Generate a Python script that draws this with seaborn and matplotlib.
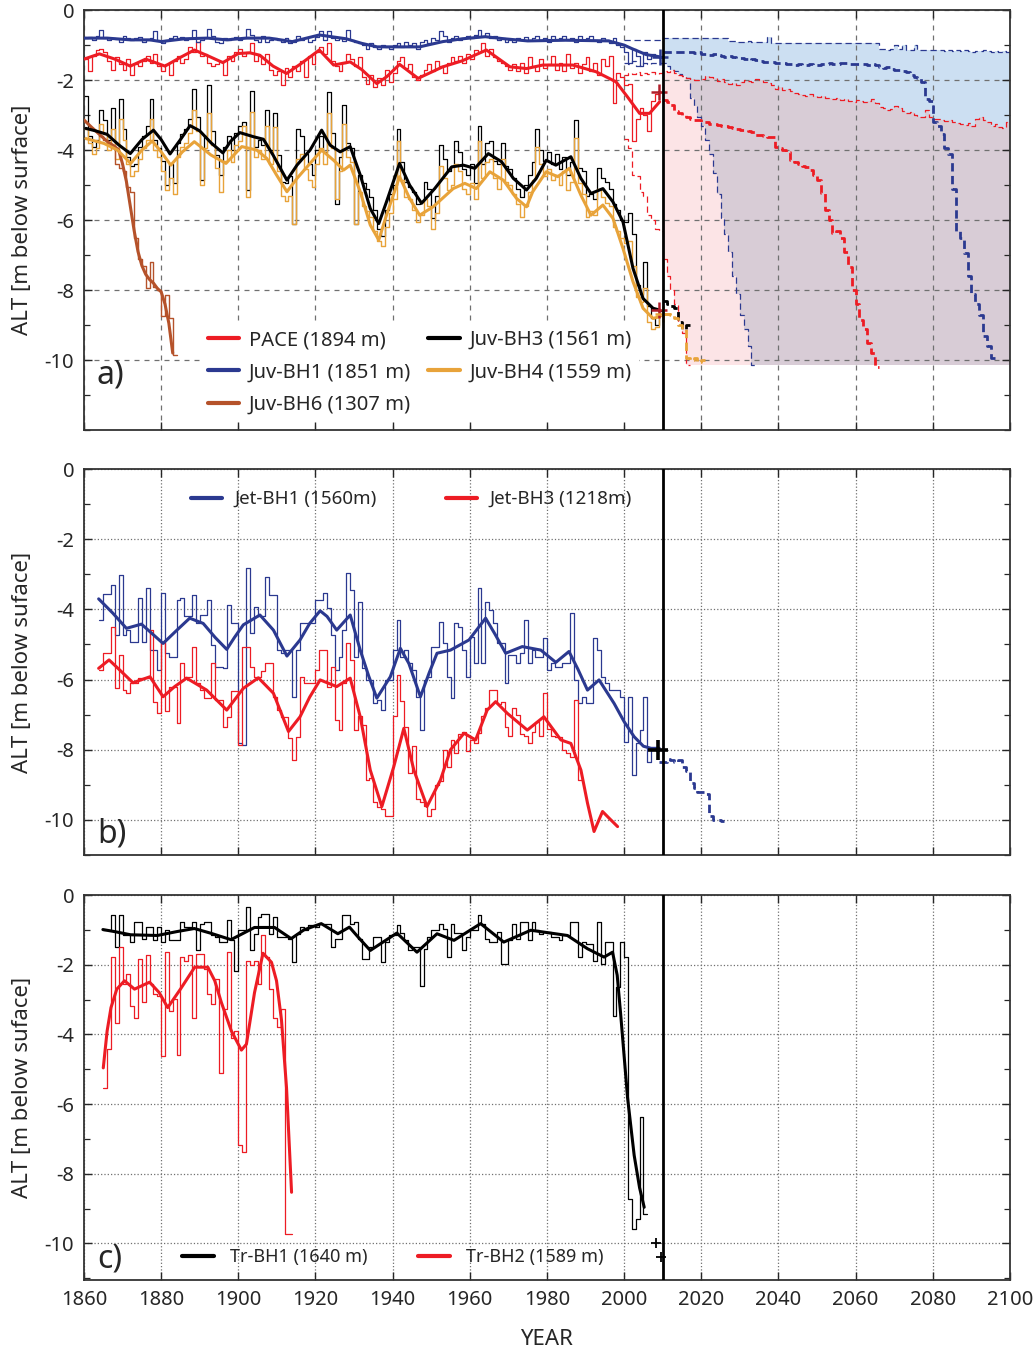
import numpy as np
import matplotlib
matplotlib.use("Agg")
import matplotlib.pyplot as plt
import seaborn as sns
from matplotlib.lines import Line2D
from matplotlib.ticker import MultipleLocator, FixedLocator

# ---------------- DATA ----------------
# Panel a: annual ALT (m, negative = below surface), 1860-2009
JUV_START = 1860
JUV_BH1 = [-0.80,-0.78,-0.85,-0.75,-0.57,-0.80,-0.85,-0.80,-0.82,-0.90,
           -0.75,-0.80,-0.85,-0.80,-0.78,-0.90,-0.85,-0.80,-0.60,-0.85,
           -0.95,-0.85,-0.80,-0.75,-0.80,-0.78,-0.85,-0.80,-0.57,-0.90,
           -0.85,-0.80,-0.55,-0.75,-0.90,-0.95,-0.80,-0.85,-0.80,-0.78,
           -0.85,-0.80,-0.55,-0.70,-0.85,-0.90,-0.75,-0.90,-0.85,-0.80,
           -0.85,-0.90,-0.80,-0.95,-0.90,-0.75,-0.85,-0.80,-0.90,-0.85,
           -0.78,-0.60,-0.85,-0.60,-0.80,-0.85,-0.80,-0.88,-0.58,-0.85,
           -0.90,-0.95,-1.00,-1.10,-0.95,-1.05,-1.10,-1.00,-1.05,-1.10,
           -1.00,-0.95,-1.05,-0.90,-1.00,-0.95,-1.10,-0.90,-0.85,-0.95,
           -0.80,-0.85,-0.60,-0.75,-0.90,-0.80,-0.75,-0.85,-0.80,-0.75,
           -0.80,-0.70,-0.57,-0.75,-0.65,-0.80,-0.75,-0.85,-0.80,-0.90,
           -0.85,-0.90,-0.80,-0.85,-0.78,-0.85,-0.80,-0.75,-0.85,-0.80,
           -0.90,-0.75,-0.85,-0.80,-0.75,-0.85,-0.80,-0.90,-0.75,-0.85,
           -0.80,-0.75,-0.85,-0.90,-0.80,-0.85,-0.95,-0.80,-1.00,-1.05,
           -1.20,-1.50,-1.10,-1.30,-1.60,-1.20,-1.40,-1.25,-1.35,-1.30]
PACE = [-1.40,-1.75,-1.30,-1.15,-1.10,-1.20,-1.45,-1.70,-1.35,-1.55,
        -1.70,-1.40,-1.85,-1.55,-1.60,-1.45,-1.30,-1.50,-1.25,-1.60,
        -1.75,-1.55,-1.85,-1.45,-1.30,-1.50,-1.40,-1.05,-1.20,-0.90,
        -1.30,-1.25,-1.50,-1.60,-1.55,-1.45,-1.85,-1.30,-1.45,-1.20,
        -1.10,-1.30,-1.20,-0.95,-1.45,-1.30,-1.55,-1.25,-1.70,-1.85,
        -1.75,-2.15,-1.65,-1.90,-1.60,-1.75,-1.45,-1.90,-1.30,-1.55,
        -1.20,-1.05,-1.25,-0.95,-1.45,-1.60,-1.75,-1.50,-1.25,-1.40,
        -1.60,-1.35,-1.90,-2.10,-1.85,-2.20,-1.95,-2.15,-1.70,-2.05,
        -1.80,-1.45,-1.35,-1.65,-1.55,-1.90,-2.00,-1.85,-1.70,-1.55,
        -1.75,-1.45,-1.60,-1.80,-1.50,-1.35,-1.45,-1.30,-1.50,-1.25,
        -1.40,-1.15,-1.20,-0.95,-1.30,-1.10,-1.35,-1.45,-1.50,-1.60,
        -1.70,-1.55,-1.75,-1.50,-1.80,-1.35,-1.60,-1.75,-1.40,-1.65,
        -1.55,-1.30,-1.70,-1.50,-1.75,-1.25,-1.65,-1.50,-1.80,-1.55,
        -1.35,-1.75,-1.50,-1.85,-1.40,-1.60,-1.30,-2.65,-1.80,-1.90,
        -2.15,-2.10,-3.75,-3.10,-2.80,-3.00,-3.45,-2.60,-2.40,-2.35]
JUV_BH3 = [-2.45,-3.60,-3.90,-3.70,-2.85,-3.15,-3.70,-2.80,-3.95,-2.55,
           -3.40,-4.20,-4.45,-4.40,-3.90,-3.60,-3.30,-2.55,-3.70,-3.95,
           -4.30,-5.00,-4.40,-4.95,-3.80,-3.55,-3.40,-3.10,-2.25,-3.05,
           -4.85,-3.60,-2.15,-3.45,-4.15,-4.70,-3.90,-3.60,-4.00,-3.50,
           -3.30,-3.20,-5.15,-2.30,-3.90,-3.70,-3.85,-2.85,-4.00,-2.95,
           -4.15,-4.90,-4.95,-4.75,-6.10,-3.40,-3.60,-4.10,-4.40,-4.70,
           -4.00,-3.60,-4.05,-2.35,-3.50,-5.55,-4.20,-2.70,-3.80,-3.95,
           -6.10,-4.70,-4.95,-5.10,-5.35,-5.70,-6.25,-6.45,-5.70,-5.25,
           -5.00,-3.40,-4.35,-4.90,-5.05,-5.20,-5.55,-5.45,-4.90,-5.10,
           -5.95,-5.30,-3.85,-4.25,-4.60,-4.45,-3.75,-4.05,-4.55,-4.70,
           -4.40,-4.95,-3.30,-4.40,-3.80,-3.75,-4.30,-4.40,-3.80,-4.45,
           -4.55,-4.80,-5.10,-5.35,-5.00,-4.70,-4.35,-3.40,-4.00,-4.30,
           -4.05,-4.40,-4.10,-4.55,-4.20,-4.70,-4.35,-3.15,-4.50,-4.60,
           -5.30,-5.25,-5.40,-4.50,-4.80,-4.90,-5.10,-5.55,-5.70,-6.00,
           -6.05,-5.80,-6.40,-7.85,-8.10,-7.20,-8.45,-8.80,-9.00,-8.60]
JUV_BH4 = [-3.40,-3.80,-4.10,-3.95,-3.25,-3.55,-4.00,-3.40,-4.25,-3.10,
           -3.70,-4.40,-4.75,-4.60,-4.25,-3.95,-3.70,-3.10,-4.00,-4.20,
           -4.60,-5.15,-4.80,-5.25,-4.20,-3.90,-3.80,-3.50,-2.85,-3.45,
           -5.00,-3.95,-2.95,-3.85,-4.50,-5.20,-4.30,-4.00,-4.35,-3.85,
           -3.75,-3.30,-5.35,-2.90,-4.20,-4.00,-4.25,-3.30,-4.40,-3.35,
           -4.60,-5.30,-5.45,-5.30,-6.10,-4.25,-4.10,-4.55,-4.85,-5.05,
           -4.40,-3.95,-4.40,-2.95,-3.95,-5.40,-4.60,-3.25,-4.20,-4.35,
           -6.10,-5.20,-5.60,-5.75,-5.90,-6.30,-6.60,-6.75,-6.20,-5.80,
           -5.40,-3.75,-4.85,-5.35,-5.40,-5.70,-6.05,-5.85,-5.40,-5.60,
           -6.25,-5.80,-4.45,-4.80,-5.15,-5.00,-4.40,-4.60,-5.10,-5.25,
           -4.95,-5.40,-3.75,-4.80,-4.35,-4.25,-4.80,-5.10,-4.25,-4.90,
           -5.00,-5.25,-5.55,-5.90,-5.60,-5.20,-4.85,-3.90,-4.40,-4.75,
           -4.55,-4.85,-4.70,-5.00,-4.60,-5.15,-4.90,-3.65,-4.95,-5.25,
           -5.90,-5.75,-5.85,-5.10,-5.35,-5.50,-5.60,-6.20,-6.30,-6.50,
           -6.65,-6.60,-7.30,-8.20,-8.35,-7.95,-8.90,-9.10,-9.05,-8.75]
BH6_START = 1864
JUV_BH6 = [-3.60,-3.70,-3.85,-3.95,-4.40,-4.50,
           -4.60,-5.05,-5.20,-6.50,-7.10,-7.30,-7.95,-7.20,-7.90,-8.00,
           -8.75,-8.15,-8.80,-9.85]

# smoothed curves (year, value)
BH1_SM_X = [1860,1866,1872,1877,1880,1886,1892,1897,1902,1908,1914,1921,1928,1932,1936,1941,1947,1953,1958,1964,1969,1975,1985,1996,2000,2002,2005.7,2009]
BH1_SM_Y = [-0.80,-0.80,-0.85,-0.85,-0.90,-0.82,-0.80,-0.85,-0.80,-0.80,-0.90,-0.71,-0.82,-0.95,-1.05,-1.05,-1.05,-0.90,-0.82,-0.76,-0.82,-0.88,-0.86,-0.88,-1.00,-1.10,-1.27,-1.33]
PACE_SM_X = [1860,1864,1868,1872,1876,1881,1885,1888.6,1892,1896,1900,1903,1905.6,1909,1912.5,1916,1921,1924.7,1929,1932,1935.9,1938.5,1941.8,1946.6,1953,1958,1964.3,1970.4,1974.7,1978.9,1986.7,1992.7,1997.9,2001,2004,2006.6,2009.2]
PACE_SM_Y = [-1.40,-1.25,-1.40,-1.60,-1.40,-1.60,-1.35,-1.14,-1.30,-1.50,-1.24,-1.22,-1.29,-1.60,-1.81,-1.55,-1.14,-1.57,-1.48,-1.70,-2.10,-1.90,-1.55,-1.95,-1.62,-1.45,-1.14,-1.62,-1.67,-1.57,-1.57,-1.76,-2.05,-2.50,-2.95,-2.95,-2.62]
BH3_SM_X = [1860.5,1863,1866,1869,1872,1875,1878,1880,1882.3,1885,1887.5,1890,1893,1896,1898,1900.4,1904,1906.5,1909,1912.6,1915.2,1918.6,1921.6,1923.8,1926.4,1929,1931.6,1934.2,1936.4,1938.4,1941.8,1944.4,1947.5,1950.9,1955.3,1958.3,1961.3,1964.8,1968.2,1971.3,1974.7,1977.2,1979.8,1982.3,1986.2,1988.8,1991.4,1994.5,1997.1,1999.7,2002.3,2004.9,2007.5,2009.2]
BH3_SM_Y = [-3.38,-3.45,-3.55,-3.85,-4.10,-3.70,-3.43,-3.70,-4.11,-3.70,-3.30,-3.45,-3.80,-4.08,-3.75,-3.50,-3.62,-3.69,-4.14,-4.86,-4.43,-4.00,-3.43,-3.86,-4.05,-3.90,-4.71,-5.67,-6.10,-5.48,-4.38,-5.00,-5.52,-5.10,-4.48,-4.43,-4.52,-4.10,-4.33,-4.81,-5.14,-4.81,-4.29,-4.43,-4.19,-4.81,-5.24,-5.10,-5.48,-6.05,-7.38,-8.24,-8.52,-8.57]
BH4_SM_X = [1860.5,1865.2,1868.7,1872.1,1875,1877.7,1880,1882.5,1885.5,1888.6,1892.9,1896.8,1900.9,1904.8,1907.4,1909.9,1912.6,1915.2,1918.6,1921.6,1924.7,1927.3,1929,1931.6,1934.2,1936.4,1938.4,1941.8,1944.4,1947,1950.5,1955.7,1958.7,1961.7,1965.2,1968.7,1972.1,1974.7,1976.3,1979.8,1982.8,1985.8,1988.8,1991.4,1994.5,1997.1,1999.7,2002.3,2004.9,2007.5,2009.2]
BH4_SM_Y = [-3.67,-3.81,-4.00,-4.38,-4.00,-3.74,-4.05,-4.43,-4.05,-3.76,-4.14,-4.38,-3.90,-4.00,-4.24,-4.71,-5.19,-4.81,-4.38,-4.00,-4.29,-4.57,-4.43,-5.19,-6.14,-6.57,-5.86,-4.76,-5.38,-5.86,-5.62,-5.10,-4.95,-5.10,-4.62,-4.86,-5.38,-5.62,-5.19,-4.62,-4.76,-4.52,-5.29,-5.86,-5.57,-5.95,-6.81,-7.76,-8.52,-8.81,-8.76]
BH6_SM_X = [1860,1862,1864,1866,1868,1869,1870,1871,1872,1873,1874,1875,1876,1877,1878,1879,1880,1881,1882,1883]
BH6_SM_Y = [-3.14,-3.35,-3.55,-3.75,-3.90,-4.00,-4.40,-4.90,-5.60,-6.30,-6.90,-7.30,-7.55,-7.70,-7.80,-7.95,-8.05,-8.40,-8.95,-9.80]

# projections (annual, dashed)
PROJ_START = 2010
BH1_PROJ = [-1.19,-1.19,-1.19,-1.20,-1.20,-1.19,-1.19,-1.21,-1.22,-1.20,
            -1.24,-1.25,-1.27,-1.26,-1.29,-1.30,-1.33,-1.32,-1.35,-1.36,
            -1.38,-1.40,-1.42,-1.41,-1.43,-1.45,-1.48,-1.47,-1.48,-1.50,
            -1.50,-1.52,-1.55,-1.54,-1.56,-1.55,-1.57,-1.58,-1.55,-1.57,
            -1.56,-1.53,-1.55,-1.52,-1.55,-1.53,-1.51,-1.52,-1.55,-1.54,
            -1.53,-1.55,-1.54,-1.56,-1.55,-1.58,-1.62,-1.64,-1.63,-1.68,
            -1.70,-1.72,-1.75,-1.78,-1.85,-1.90,-1.95,-2.05,-2.55,-2.60,
            -3.20,-3.30,-3.55,-3.95,-4.10,-5.10,-6.30,-6.50,-6.95,-7.60,
            -8.10,-8.40,-8.70,-9.30,-9.60,-9.95]
PACE_PROJ = [-2.57,-2.62,-2.70,-2.88,-2.95,-3.00,-3.05,-3.10,-3.14,-3.15,
             -3.19,-3.20,-3.24,-3.25,-3.28,-3.30,-3.32,-3.33,-3.38,-3.40,
             -3.42,-3.43,-3.45,-3.48,-3.57,-3.58,-3.60,-3.62,-3.62,-3.90,
             -3.95,-4.00,-4.05,-4.29,-4.35,-4.40,-4.45,-4.48,-4.57,-4.70,
             -4.86,-5.24,-5.70,-6.00,-6.38,-6.30,-6.50,-6.90,-7.33,-8.00,
             -8.40,-8.86,-9.10,-9.50,-9.80,-10.19]
BH3_PROJ = [-8.30,-8.40,-8.45,-8.50,-8.90,-9.10,-9.00]
BH4_PROJ = [-8.67,-8.67,-8.70,-8.80,-9.00,-9.10,-9.95,-10.00,-9.95,-10.05,-10.00]
# projection envelopes (thin dashed), from 2000
ENV_START = 2000
BH1_UP = [-0.86,-0.86,-0.86,-0.86,-0.86,-0.86,-0.86,-0.86,-0.86,-0.86,
          -0.81,-0.81,-0.81,-0.81,-0.81,-0.81,-0.81,-0.81,-0.81,-0.81,
          -0.81,-0.81,-0.81,-0.81,-0.81,-0.81,-0.81,-0.88,-0.88,-0.90,
          -0.90,-0.90,-0.88,-0.90,-0.90,-0.90,-0.90,-0.76,-0.95,-0.95,
          -0.95,-0.95,-0.95,-0.95,-0.95,-0.95,-0.95,-0.95,-0.95,-0.95,
          -0.95,-0.95,-0.95,-0.95,-0.95,-0.95,-0.95,-0.95,-0.95,-0.95,
          -0.95,-0.95,-0.95,-0.95,-0.95,-0.95,-1.12,-1.12,-1.14,-1.12,
          -1.00,-1.12,-1.00,-1.14,-1.14,-1.00,-1.14,-1.14,-1.14,-1.14,
          -1.14,-1.15,-1.15,-1.16,-1.15,-1.18,-1.15,-1.16,-1.15,-1.18,
          -1.20,-1.17,-1.18,-1.15,-1.18,-1.19,-1.18,-1.19,-1.18,-1.19,
          -1.19]
BH1_LO = [-1.50,-1.55,-1.45,-1.60,-1.55,-1.50,-1.55,-1.50,-1.52,-1.50,
          -1.52,-1.60,-1.70,-1.75,-1.82,-1.88,-1.95,-2.50,-2.75,-3.05,
          -3.30,-3.70,-4.10,-4.65,-5.25,-5.95,-6.40,-6.90,-7.60,-8.10,
          -8.70,-9.10,-9.60,-10.15]
PACE_UP = [-1.85,-1.80,-1.82,-1.78,-1.85,-1.80,-1.83,-1.78,-1.82,-1.80,
           -1.75,-1.78,-1.72,-1.80,-1.85,-1.88,-1.95,-1.98,-2.00,-2.00,
           -1.98,-1.88,-1.90,-1.95,-2.02,-1.98,-2.05,-2.10,-2.08,-2.15,
           -2.05,-2.00,-2.02,-2.05,-1.98,-2.00,-2.05,-2.08,-2.15,-2.25,
           -2.20,-2.28,-2.25,-2.30,-2.38,-2.40,-2.42,-2.45,-2.40,-2.44,
           -2.48,-2.45,-2.50,-2.52,-2.55,-2.50,-2.58,-2.55,-2.60,-2.62,
           -2.58,-2.60,-2.62,-2.60,-2.55,-2.65,-2.78,-2.80,-2.85,-2.82,
           -2.75,-2.80,-2.88,-2.95,-2.90,-3.00,-3.05,-3.05,-2.85,-3.05,
           -3.10,-3.12,-3.15,-3.18,-3.15,-3.20,-3.22,-3.25,-3.28,-3.22,
           -3.30,-3.10,-3.05,-3.15,-3.20,-3.30,-3.25,-3.35,-3.38,-3.20,
           -3.10]
PACE_LO = [-3.67,-3.95,-4.70,-4.75,-5.20,-5.30,-5.85,-6.00,-6.25,-6.30,
           -7.10,-7.60,-8.00,-8.40,-8.90,-9.24,-10.14]
ENV_FLOOR = -10.14
# 2009 observations (+ markers)
OBS_A_X = [2009.3, 2009.0, 2009.0, 2010.0]
OBS_A_Y = [-1.33, -2.35, -8.57, -8.67]

# Panel b
JET_START = 1864
JET_BH1 = [-4.30,-3.55,-3.55,-3.30,-4.73,-3.02,
           -4.73,-4.59,-4.92,-4.92,-3.67,-4.92,-3.40,-5.16,-5.16,-5.73,
           -3.54,-5.25,-5.35,-5.35,-3.73,-3.68,-4.20,-4.20,-3.59,-4.40,
           -4.16,-4.16,-3.73,-5.01,-5.63,-5.63,-5.68,-3.87,-4.40,-4.40,
           -7.82,-7.86,-2.83,-4.68,-3.92,-4.20,-4.20,-3.07,-3.59,-3.59,
           -5.16,-5.25,-5.16,-5.16,-6.49,-5.16,-4.40,-4.40,-4.40,-4.40,
           -3.73,-3.73,-3.54,-3.97,-4.73,-5.73,-5.35,-4.60,-2.97,-3.45,
           -5.35,-3.78,-5.68,-6.00,-6.00,-6.68,-6.58,-6.87,-6.00,-6.00,
           -5.16,-4.30,-5.35,-5.16,-5.54,-5.73,-6.49,-7.44,-6.00,-5.92,
           -5.06,-5.06,-4.35,-4.97,-5.92,-6.53,-4.40,-4.49,-5.16,-5.92,
           -4.78,-5.54,-3.40,-5.54,-3.78,-4.02,-4.40,-4.97,-4.97,-6.10,
           -5.30,-5.30,-5.54,-5.25,-4.30,-5.54,-5.16,-5.35,-5.35,-4.82,
           -5.73,-5.54,-5.63,-5.63,-5.54,-5.54,-4.11,-6.00,-6.68,-6.49,
           -6.68,-6.68,-4.82,-5.16,-5.92,-6.10,-6.30,-6.30,-6.30,-6.49,
           -7.77,-6.49,-8.72,-7.82,-7.44,-6.49,-8.34,-8.00,-8.00]
JET_BH3 = [-5.73,-5.25,-5.25,-4.49,-6.25,-5.30,
           -6.30,-6.39,-6.11,-6.11,-5.96,-5.96,-5.96,-4.59,-6.63,-6.96,
           -4.97,-6.91,-6.20,-6.20,-7.25,-5.54,-5.92,-5.92,-5.06,-6.11,
           -6.30,-6.53,-6.53,-5.54,-6.58,-6.58,-7.34,-7.06,-6.34,-6.34,
           -7.86,-5.06,-5.06,-5.63,-5.92,-5.92,-5.77,-5.54,-5.54,-6.49,
           -6.87,-7.06,-7.06,-7.67,-8.29,-7.63,-5.92,-6.11,-6.11,-6.11,
           -5.73,-5.16,-5.16,-6.20,-5.63,-7.15,-7.44,-6.10,-4.97,-5.45,
           -7.44,-7.05,-7.30,-8.86,-8.80,-9.50,-9.62,-9.70,-9.90,-9.90,
           -7.05,-5.87,-6.60,-7.35,-8.65,-7.90,-9.40,-9.50,-9.60,-9.90,
           -9.70,-9.00,-8.90,-8.00,-8.50,-7.72,-8.10,-7.55,-7.50,-8.05,
           -7.72,-7.80,-7.53,-7.05,-6.80,-6.30,-6.30,-6.70,-6.65,-7.35,
           -7.60,-6.80,-7.00,-7.55,-7.60,-7.80,-7.50,-7.20,-7.60,-6.39,
           -7.40,-7.60,-7.65,-7.65,-8.00,-8.10,-8.20,-6.58,-8.86]
JET1_SM_X = [1863.8,1867.5,1871,1874.9,1880.5,1884,1887.4,1890.9,1894,1897,1899,1901.3,1905.6,1909.1,1912.6,1916,1918.5,1921.2,1923,1925.5,1929,1931.6,1933.8,1935.9,1939.4,1942,1944.2,1947.2,1949.5,1951.5,1955,1959.8,1964.1,1966.5,1969.3,1973.6,1978.4,1982.3,1985.7,1988,1990.5,1993.5,1997.4,2000,2002.6,2005,2007,2009.1]
JET1_SM_Y = [-3.70,-4.11,-4.54,-4.42,-4.97,-4.60,-4.25,-4.40,-4.80,-5.14,-4.80,-4.44,-4.16,-4.59,-5.33,-4.87,-4.40,-4.04,-4.20,-4.59,-4.16,-5.16,-5.90,-6.53,-5.92,-5.11,-5.54,-6.49,-5.80,-5.25,-5.16,-4.87,-4.25,-4.70,-5.25,-5.06,-5.16,-5.51,-5.20,-5.70,-6.30,-6.01,-6.68,-7.20,-7.63,-7.90,-7.96,-7.96]
JET3_SM_X = [1863.8,1866.5,1869,1872.7,1877.1,1880.5,1883.5,1886.6,1891.8,1897,1901.3,1905.2,1909.1,1913,1916,1918.5,1921.2,1925.5,1929,1931.6,1934.2,1937.2,1940.3,1942.9,1945.5,1948.9,1952.4,1955,1958.5,1961.5,1964.5,1966.7,1969.7,1974.9,1979.2,1983.6,1986.2,1988.8,1990.5,1992.2,1994.4,1996.1,1998.3]
JET3_SM_Y = [-5.68,-5.44,-5.70,-6.09,-5.92,-6.49,-6.20,-5.96,-6.30,-6.87,-6.25,-5.95,-6.39,-7.48,-7.06,-6.50,-6.01,-6.20,-5.96,-7.06,-8.58,-9.62,-8.48,-7.39,-8.58,-9.62,-8.86,-8.00,-7.53,-7.72,-6.87,-6.63,-6.96,-7.44,-7.06,-7.72,-7.82,-8.58,-9.52,-10.33,-9.76,-9.95,-10.19]
JET1_PROJ_START = 2009
JET1_PROJ = [-8.35,-8.36,-8.25,-8.30,-8.35,-8.30,-8.48,-8.60,-8.95,-9.10,-9.20,-9.20,-9.25,-9.90,-10.00,-10.00,-10.02]
OBS_B_X = [2008.8]
OBS_B_Y = [-8.0]

# Panel c
TR1_START = 1865
TR_BH1 = [-1.00,-1.00,-0.58,-1.49,-0.58,
          -1.16,-1.16,-1.35,-0.77,-0.77,-1.25,-0.92,-0.92,-1.30,-0.92,
          -1.35,-1.01,-1.30,-1.30,-1.30,-0.77,-0.92,-0.92,-0.77,-1.59,
          -0.82,-0.77,-0.77,-1.16,-1.20,-1.35,-1.35,-0.72,-1.30,-2.17,
          -1.01,-1.01,-0.34,-1.59,-1.11,-0.63,-0.53,-0.53,-1.11,-0.63,
          -1.20,-1.20,-1.20,-1.25,-1.93,-1.11,-0.92,-1.01,-0.87,-0.87,
          -0.92,-0.82,-0.82,-0.82,-1.49,-1.25,-1.25,-0.58,-0.58,-0.82,
          -0.77,-1.25,-1.83,-1.83,-1.49,-1.20,-1.20,-1.93,-1.35,-1.16,
          -1.16,-0.87,-1.10,-1.30,-1.59,-1.49,-1.49,-2.60,-1.54,-1.20,
          -1.01,-1.01,-0.82,-0.96,-1.78,-0.82,-1.10,-1.10,-1.59,-1.20,
          -1.01,-1.01,-0.58,-0.82,-1.25,-1.35,-1.35,-1.06,-1.97,-1.97,
          -1.30,-0.82,-1.25,-0.77,-0.77,-1.30,-0.77,-1.01,-1.11,-1.06,
          -1.06,-1.20,-1.20,-1.30,-1.16,-1.16,-0.77,-0.77,-1.78,-1.35,
          -1.40,-1.40,-1.88,-0.77,-1.97,-1.35,-1.35,-3.47,-2.65,-1.35,
          -1.78,-8.72,-9.59,-9.30,-6.36,-9.15]
TR2_START = 1865
TR_BH2 = [-5.54,-4.43,-1.78,-3.66,-1.49,
          -2.55,-2.26,-3.18,-3.52,-1.83,-3.08,-1.73,-2.55,-2.84,-2.90,
          -4.62,-1.64,-3.32,-2.99,-4.58,-1.78,-1.88,-1.73,-3.52,-1.69,
          -1.69,-2.12,-2.84,-3.13,-2.40,-5.11,-3.28,-1.64,-4.09,-3.90,
          -7.18,-7.37,-1.88,-2.02,-1.88,-2.55,-1.16,-1.78,-2.70,-3.52,
          -3.80,-3.28,-9.73,-9.73]
TR1_SM_X = [1864.9,1868,1872.1,1879,1884,1888.6,1893,1898.1,1904.2,1909.4,1913.7,1917,1921.5,1925.8,1928.8,1931,1934.2,1937.5,1941.1,1946.3,1951.5,1955.9,1962.8,1968.8,1975.8,1985.3,1990.5,1994.8,1997,1998.2,1999.1,2000.9,2002.6,2004,2005.2]
TR1_SM_Y = [-0.99,-1.05,-1.14,-1.16,-1.05,-0.96,-1.10,-1.28,-0.93,-0.93,-1.25,-1.00,-0.82,-1.11,-0.92,-1.20,-1.59,-1.35,-1.09,-1.64,-1.11,-1.30,-0.82,-1.35,-1.01,-1.16,-1.54,-1.78,-1.64,-2.30,-3.42,-5.83,-7.47,-8.40,-8.96]
TR2_SM_X = [1865,1866,1867,1868.5,1870.5,1873.1,1877,1879.5,1881.7,1885,1888.7,1892.1,1893.9,1895.6,1898.2,1900.8,1902.1,1904.2,1906.4,1908.6,1909.9,1911.2,1912.5,1913.8]
TR2_SM_Y = [-4.96,-3.90,-3.23,-2.70,-2.46,-2.70,-2.50,-2.80,-3.23,-2.70,-2.07,-2.07,-2.46,-3.08,-3.90,-4.45,-4.28,-2.80,-1.67,-1.93,-2.46,-3.60,-5.54,-8.53]
OBS_C_X = [2008.2, 2009.5]
OBS_C_Y = [-10.0, -10.4]

Y_LABELED = [0, -2, -4, -6, -8, -10]
OBS_YEAR = 2010

# ---------------- STYLE ----------------
BLUE = "#2B3990"
RED = "#ED1C24"
BLACK = "#000000"
ORANGE = "#E8A33A"
BROWN = "#B5522A"
DARKRED = "#B01F2A"
FILL_BLUE = "#CCDFF2"
FILL_PINK = "#FCE4E6"
FILL_OVER = "#D8CCD6"

sns.set_style("ticks")
plt.rcParams["font.family"] = ["Noto Sans", "DejaVu Sans"]
plt.rcParams["axes.unicode_minus"] = False
plt.rcParams["axes.linewidth"] = 1.3
plt.rcParams["axes.edgecolor"] = "#333333"

fig = plt.figure(figsize=(10.33, 13.49), dpi=100)
ax_a = fig.add_axes([0.0813, 0.6812, 0.8964, 0.3113])
ax_b = fig.add_axes([0.0813, 0.3662, 0.8964, 0.2861])
ax_c = fig.add_axes([0.0813, 0.0511, 0.8964, 0.2854])


def steps(ax, start, vals, color, lw=1.0, dashes=None, z=2, alpha=1.0):
    vals = np.asarray(vals, dtype=float)
    yrs = np.arange(start, start + len(vals) + 1)
    y = np.append(vals, vals[-1])
    sns.lineplot(x=yrs, y=y, ax=ax, color=color, linewidth=lw, drawstyle="steps-post",
                 estimator=None, sort=False, legend=False, zorder=z, alpha=alpha)
    if dashes is not None:
        ax.lines[-1].set_dashes(dashes)


def smooth(ax, xs, ys, color, lw=2.2, z=5):
    sns.lineplot(x=xs, y=ys, ax=ax, color=color, linewidth=lw, estimator=None,
                 sort=False, legend=False, zorder=z)
    ax.lines[-1].set_solid_joinstyle("round")


def marks(ax, xs, ys, colors, size, lw):
    for x, y, c in zip(xs, ys, colors):
        sns.scatterplot(x=[x], y=[y], ax=ax, marker="+", s=size, color=c,
                        linewidth=lw, zorder=8, legend=False)


def style_axis(ax, ylim, grid_ls, show_x):
    ax.set_xlim(1860, 2100)
    ax.set_ylim(*ylim)
    ax.xaxis.set_major_locator(MultipleLocator(20))
    ax.yaxis.set_major_locator(FixedLocator(Y_LABELED))
    ax.yaxis.set_minor_locator(MultipleLocator(1))
    ax.tick_params(which="both", direction="in", top=True, right=True)
    ax.tick_params(which="major", length=6, width=1.0, labelsize=14.5, pad=7)
    ax.tick_params(which="minor", length=4, width=0.9)
    ax.grid(True, which="major", color="#707070", linewidth=0.9, linestyle=grid_ls)
    ax.set_axisbelow("line")
    if not show_x:
        ax.set_xticklabels([])
    ax.set_xlabel("")
    ax.axvline(OBS_YEAR, color="black", linewidth=2.0, zorder=9)


# ---------------- PANEL A ----------------
ax = ax_a
env_years = np.arange(PROJ_START, 2101)
off = PROJ_START - ENV_START
bu = np.array(BH1_UP[off:])
ru = np.array(PACE_UP[off:])
n = len(env_years)
bl = np.concatenate([BH1_LO[off:], np.full(n - len(BH1_LO[off:]), ENV_FLOOR)])
rl = np.concatenate([PACE_LO[off:], np.full(n - len(PACE_LO[off:]), ENV_FLOOR)])
ax.fill_between(env_years, bl, bu, step="post", color=FILL_BLUE, lw=0, zorder=1)
ax.fill_between(env_years, rl, ru, step="post", color=FILL_PINK, lw=0, zorder=1)
ov_lo = np.maximum(bl, rl)
ov_hi = np.minimum(bu, ru)
ax.fill_between(env_years, ov_lo, ov_hi, where=ov_hi > ov_lo, step="post",
                color=FILL_OVER, lw=0, zorder=1, interpolate=False)

steps(ax, ENV_START, BH1_UP, BLUE, lw=0.9, dashes=(5, 3))
steps(ax, ENV_START, BH1_LO, BLUE, lw=0.9, dashes=(5, 3))
steps(ax, ENV_START, PACE_UP, RED, lw=0.9, dashes=(5, 3))
steps(ax, ENV_START, PACE_LO, RED, lw=0.9, dashes=(5, 3))

steps(ax, JUV_START, JUV_BH3, BLACK, lw=0.9)
steps(ax, JUV_START, JUV_BH4, ORANGE, lw=1.0)
steps(ax, BH6_START, JUV_BH6, BROWN, lw=1.0)
steps(ax, JUV_START, PACE, RED, lw=0.9)
steps(ax, JUV_START, JUV_BH1, BLUE, lw=0.9)

smooth(ax, BH6_SM_X, BH6_SM_Y, BROWN)
smooth(ax, BH4_SM_X, BH4_SM_Y, ORANGE)
smooth(ax, BH3_SM_X, BH3_SM_Y, BLACK)
smooth(ax, PACE_SM_X, PACE_SM_Y, RED)
smooth(ax, BH1_SM_X, BH1_SM_Y, BLUE)

steps(ax, PROJ_START, BH1_PROJ, BLUE, lw=2.0, dashes=(3, 1.6), z=6)
steps(ax, PROJ_START, PACE_PROJ, RED, lw=2.0, dashes=(3, 1.6), z=6)
steps(ax, PROJ_START, BH3_PROJ, BLACK, lw=2.0, dashes=(3, 1.6), z=6)
steps(ax, PROJ_START, BH4_PROJ, ORANGE, lw=2.0, dashes=(3, 1.6), z=6)

marks(ax, OBS_A_X, OBS_A_Y, [BLUE, DARKRED, DARKRED, ORANGE], 130, 1.8)

style_axis(ax, (-12, 0), (0, (4, 4)), False)
ax.set_ylabel("ALT [m below surface]", fontsize=16)
handles = [Line2D([], [], color=c, lw=3) for c in [RED, BLUE, BROWN, BLACK, ORANGE]]
labels = ["PACE (1894 m)", "Juv-BH1 (1851 m)", "Juv-BH6 (1307 m)",
          "Juv-BH3 (1561 m)", "Juv-BH4 (1559 m)"]
leg = ax.legend(handles, labels, ncol=2, loc="upper left", bbox_to_anchor=(0.126, 0.255),
                fontsize=14.5, frameon=True, framealpha=1, facecolor="white",
                edgecolor="none", fancybox=False, handlelength=1.55, handletextpad=0.5,
                columnspacing=0.85, labelspacing=0.62, borderpad=0.35, borderaxespad=0)
leg.set_zorder(7)
ax.text(0.014, 0.13, "a)", transform=ax.transAxes, fontsize=23, va="center", ha="left", zorder=10)

# ---------------- PANEL B ----------------
ax = ax_b
steps(ax, JET_START, JET_BH1, BLUE, lw=0.9)
steps(ax, JET_START, JET_BH3, RED, lw=0.9)
smooth(ax, JET1_SM_X, JET1_SM_Y, BLUE)
smooth(ax, JET3_SM_X, JET3_SM_Y, RED)
steps(ax, JET1_PROJ_START, JET1_PROJ, BLUE, lw=2.0, dashes=(3, 1.6), z=6)
marks(ax, OBS_B_X, OBS_B_Y, [BLACK], 220, 2.6)
style_axis(ax, (-11, 0), ":", False)
ax.set_ylabel("ALT [m below suface]", fontsize=16)
handles = [Line2D([], [], color=c, lw=3) for c in [BLUE, RED]]
ax.legend(handles, ["Jet-BH1 (1560m)", "Jet-BH3 (1218m)"], ncol=2, loc="center left",
          bbox_to_anchor=(0.112, 0.922), fontsize=13.5, frameon=False, handlelength=1.65,
          handletextpad=0.65, columnspacing=3.7, borderaxespad=0, borderpad=0.2)
ax.text(0.014, 0.055, "b)", transform=ax.transAxes, fontsize=23, va="center", ha="left", zorder=10)

# ---------------- PANEL C ----------------
ax = ax_c
steps(ax, TR1_START, TR_BH1, BLACK, lw=0.9)
steps(ax, TR2_START, TR_BH2, RED, lw=0.9)
smooth(ax, TR1_SM_X, TR1_SM_Y, BLACK)
smooth(ax, TR2_SM_X, TR2_SM_Y, RED)
marks(ax, OBS_C_X, OBS_C_Y, [BLACK, BLACK], 50, 1.3)
style_axis(ax, (-11.05, 0), ":", True)
ax.set_ylabel("ALT [m below suface]", fontsize=16)
ax.set_xlabel("YEAR", fontsize=16, labelpad=14)
handles = [Line2D([], [], color=c, lw=3) for c in [BLACK, RED]]
ax.legend(handles, ["Tr-BH1 (1640 m)", "Tr-BH2 (1589 m)"], ncol=2, loc="center left",
          bbox_to_anchor=(0.102, 0.06), fontsize=13, frameon=False, handlelength=1.75,
          handletextpad=0.9, columnspacing=2.8, borderaxespad=0, borderpad=0.2)
ax.text(0.014, 0.055, "c)", transform=ax.transAxes, fontsize=23, va="center", ha="left", zorder=10)

for a in (ax_a, ax_b, ax_c):
    a.yaxis.set_label_coords(-0.055, 0.5)

fig.savefig("out.png", dpi=100)
